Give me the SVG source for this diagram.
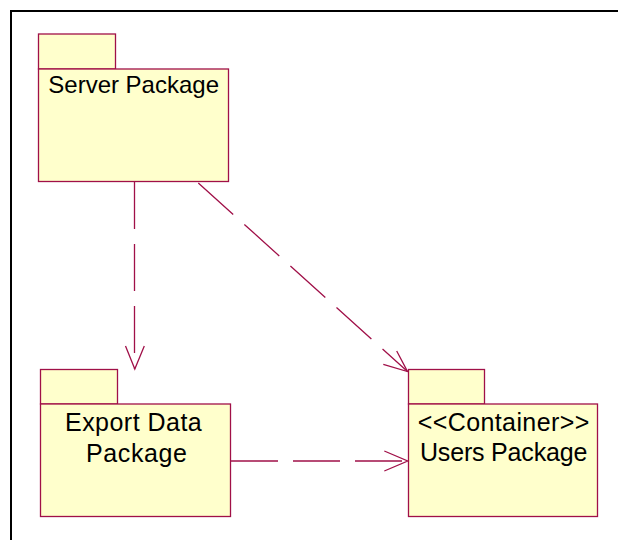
<svg xmlns="http://www.w3.org/2000/svg" width="618" height="540" viewBox="0 0 618 540">
<style>
.pkg{fill:#FFFFCC;stroke:#A01048;stroke-width:1.3}
.lbl{font-family:"Liberation Sans",Arial,sans-serif;font-size:24px;fill:#000}
.big{font-size:25px}
.dep{fill:none;stroke:#A01048;stroke-width:1.3;stroke-dasharray:47 15}
.head{fill:none;stroke:#A01048;stroke-width:1.3}
</style>
<rect width="618" height="540" fill="#fff"/>
<path d="M11,540 V11 H618" fill="none" stroke="#000" stroke-width="2"/>
<g id="server">
<rect class="pkg" x="38.5" y="34" width="77" height="35"/>
<rect class="pkg" x="38.5" y="69" width="190" height="112.5"/>
<text class="lbl" x="48.3" y="93" textLength="170.7" lengthAdjust="spacing">Server Package</text>
</g>
<g id="export">
<rect class="pkg" x="40.5" y="369.5" width="77" height="34.5"/>
<rect class="pkg" x="40.5" y="404" width="190" height="112.5"/>
<text class="lbl big" x="65" y="431" textLength="136.7" lengthAdjust="spacing">Export Data</text>
<text class="lbl big" x="86" y="462.3" textLength="101" lengthAdjust="spacing">Package</text>
</g>
<g id="users">
<rect class="pkg" x="408.5" y="369.5" width="76" height="34.5"/>
<rect class="pkg" x="408.5" y="404" width="189" height="112.5"/>
<text class="lbl big" x="417.7" y="430.7" textLength="171.6" lengthAdjust="spacing">&lt;&lt;Container&gt;&gt;</text>
<text class="lbl big" x="420" y="461" textLength="167.3" lengthAdjust="spacing">Users Package</text>
</g>
<g id="connectors">
<path class="dep" d="M134.5,182 V369"/>
<path class="head" d="M125.5,346 L134.8,369 L144.3,346"/>
<path class="dep" d="M198.3,183 L407.5,371.5"/>
<path class="head" d="M396.7,351 L407.5,371.5 L383.3,364.3"/>
<path class="dep" d="M231,461 H408"/>
<path class="head" d="M384.3,451 L407.7,461 L384.3,471"/>
</g>
</svg>
